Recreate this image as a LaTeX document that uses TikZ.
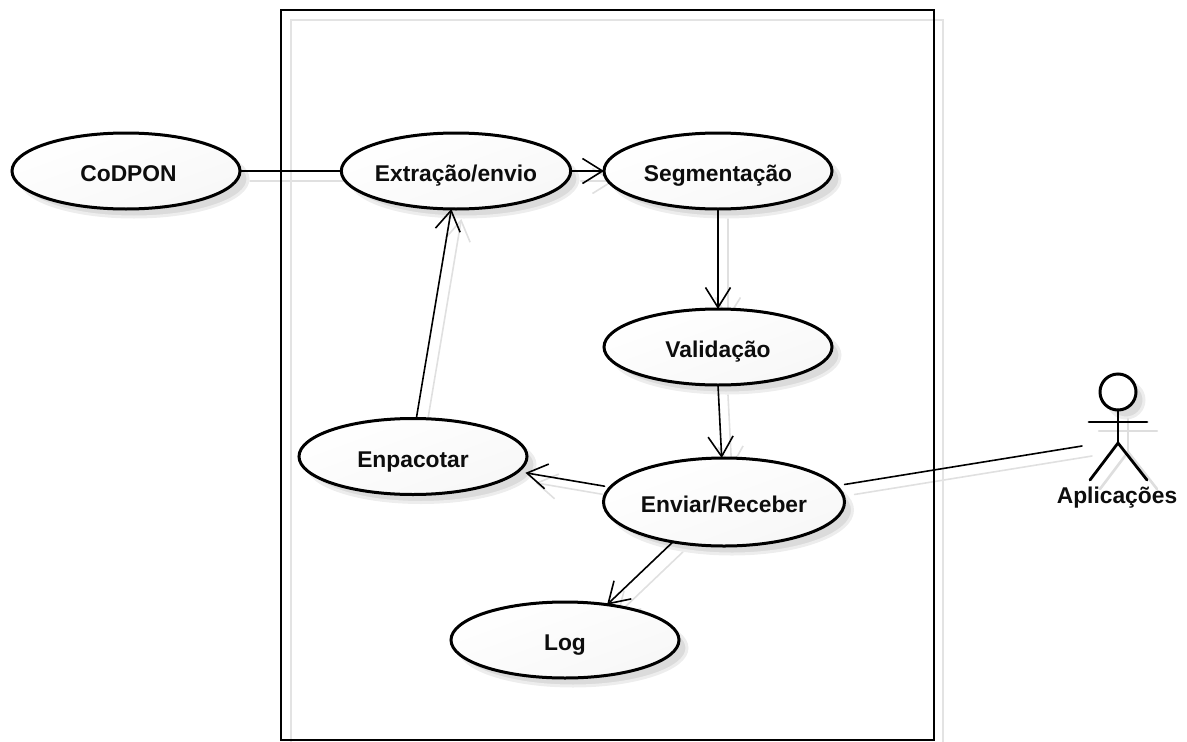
\documentclass[tikz,border=0pt]{standalone}
\usepackage{fontspec}
\setmainfont{Liberation Sans}
\usetikzlibrary{shapes.geometric,arrows.meta,backgrounds}
\tikzset{
  x=1pt,y=-1pt,
  label font/.style={font=\fontsize{22.8}{26}\selectfont\bfseries,text=black!95,text height=21pt,text depth=0pt},
  usecase/.style={ellipse,draw=black,line width=3pt,left color=white,right color=black!3,shading angle=20,inner sep=0pt,outer sep=0pt,
    minimum width=228pt,minimum height=76pt,label font},
  usecase shadow/.style={ellipse,draw=black!7,line width=3pt,fill=black!14,inner sep=0pt,outer sep=0pt,
    minimum width=228pt,minimum height=76pt},
  link/.style={draw=black,line width=1.6pt,line cap=round},
  flow/.style={link,-{Straight Barb[length=20pt,width=25pt]}},
  ghost/.style={draw=black!12,line width=1.6pt,line cap=round},
  ghostflow/.style={ghost,-{Straight Barb[length=20pt,width=25pt]}},
  frameline/.style={draw=black,line width=1.2pt},
  frameghost/.style={draw=black!11,line width=1.4pt},
  stick/.style={draw=black,line width=2.8pt,line cap=round},
  stickghost/.style={draw=black!13,line width=2.6pt,line cap=round},
}
\begin{document}
\begin{tikzpicture}
\useasboundingbox (0,0) rectangle (1187,742);
\draw[frameghost] (291,742) -- (291,20) -- (943,20) -- (943,742);
\draw[frameline] (281,10) rectangle (934,740);

\node[usecase] (cod) at (126,171) {\hspace{5pt}CoDPON};
\node[usecase] (ext) at (456,171) {Extração/envio};
\node[usecase] (seg) at (718,171) {Segmentação};
\node[usecase] (val) at (718,347) {Validação};
\node[usecase] (enp) at (413,456.5) {Enpacotar};
\node[usecase,minimum width=241pt,minimum height=88pt] (env) at (724,502) {Enviar/Receber};
\node[usecase] (log) at (565,640) {Log};

\node[circle,draw=black,line width=3pt,fill=white,minimum size=36pt,inner sep=0pt,outer sep=0pt] (head) at (1118,392) {};
\coordinate (neck) at (1118,443);
\coordinate (armL) at (1089,422);
\coordinate (armR) at (1147,422);
\coordinate (legL) at (1090,480);
\coordinate (legR) at (1147,480);
\coordinate (actorend) at (1082,446);
\node[label font,inner sep=0pt] (act) at (1117,492.5) {Aplicações};

\draw[stick] (head.south) -- (neck);
\draw[stick] (armL) -- (armR);
\draw[stick] (legL) -- (neck) -- (legR);

\draw[link] (cod.east) -- (ext.west);
\draw[flow] (ext.east) -- (seg.west);
\draw[flow] (seg.south) -- (val.north);
\draw[flow] (val.south) -- (env.93);
\draw[flow] (enp.85) -- (ext.263);
\draw[flow] ([xshift=-7pt]env.172) -- ([xshift=9.5pt]enp.-9);
\draw[flow] (env.218) -- (log.40);
\draw[link] ([xshift=10pt]env.9) -- (actorend);

\begin{scope}[on background layer]
  \draw[ghost] ([shift={(10,10)}]cod.east) -- ([shift={(10,10)}]ext.west);
  \draw[ghostflow] ([shift={(10,10)}]ext.east) -- ([shift={(10,10)}]seg.west);
  \draw[ghostflow] ([shift={(10,10)}]seg.south) -- ([shift={(10,10)}]val.north);
  \draw[ghostflow] ([shift={(10,10)}]val.south) -- ([shift={(10,10)}]env.93);
  \draw[ghostflow] ([shift={(10,10)}]enp.85) -- ([shift={(10,10)}]ext.263);
  \draw[ghostflow] ([shift={(2,10)}]env.172) -- ([shift={(19.5,10)}]enp.-9);
  \draw[ghostflow] ([shift={(10,10)}]env.218) -- ([shift={(10,10)}]log.40);
  \draw[ghost] ([shift={(20,10)}]env.9) -- ([shift={(10,10)}]actorend);
  \node[usecase shadow] at ([shift={(8,8)}]cod.center) {};
  \node[usecase shadow] at ([shift={(8,8)}]ext.center) {};
  \node[usecase shadow] at ([shift={(8,8)}]seg.center) {};
  \node[usecase shadow] at ([shift={(8,8)}]val.center) {};
  \node[usecase shadow] at ([shift={(8,8)}]enp.center) {};
  \node[usecase shadow,minimum width=241pt,minimum height=88pt] at ([shift={(8,8)}]env.center) {};
  \node[usecase shadow] at ([shift={(8,8)}]log.center) {};
  \node[circle,draw=black!7,line width=3pt,fill=black!14,minimum size=36pt,inner sep=0pt] at ([shift={(8,8)}]head.center) {};
  \draw[stickghost] ([shift={(10,9)}]head.south) -- ([shift={(10,9)}]neck);
  \draw[stickghost] ([shift={(10,9)}]armL) -- ([shift={(10,9)}]armR);
  \draw[stickghost] ([shift={(10,9)}]legL) -- ([shift={(10,9)}]neck) -- ([shift={(10,9)}]legR);
\end{scope}
\end{tikzpicture}
\end{document}
